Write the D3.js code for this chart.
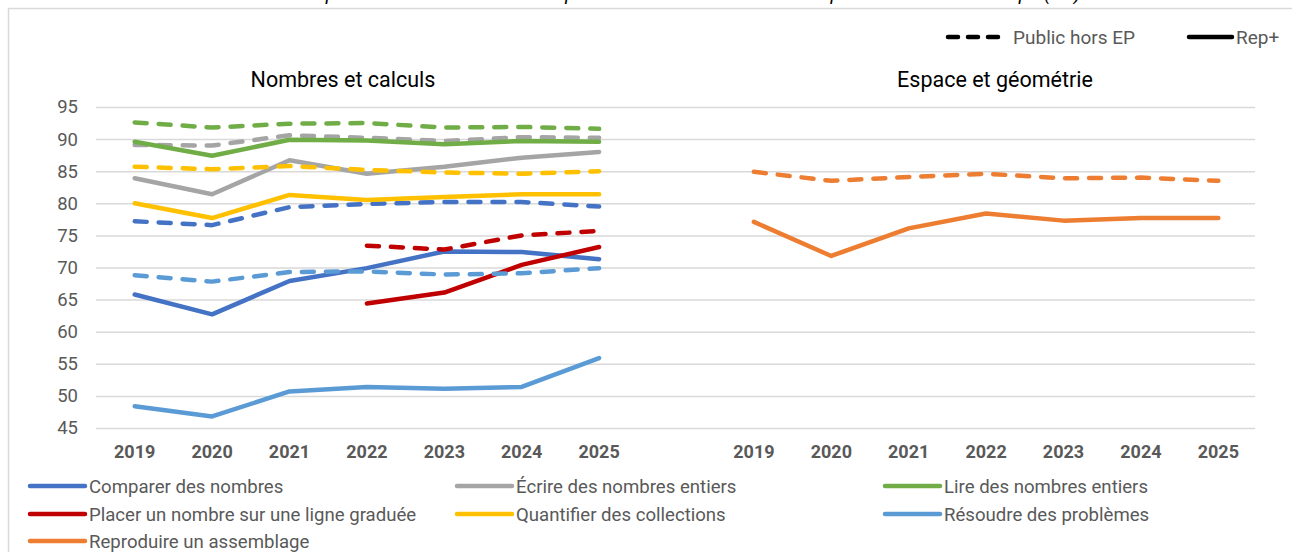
<!DOCTYPE html>
<html>
<head>
<meta charset="utf-8">
<script src="https://cdn.jsdelivr.net/npm/d3@7"></script>
<style>
  body { margin: 0; background: #fff; }
  svg { font-family: Roboto, "Noto Sans", sans-serif; }
</style>
</head>
<body>
<div id="chart"></div>
<script>
var width = 1292,
  height = 552;

// Data
var years = ["2019", "2020", "2021", "2022", "2023", "2024", "2025"];
var domains = ["Nombres et calculs", "Espace et géométrie"];
var yTicks = [45, 50, 55, 60, 65, 70, 75, 80, 85, 90, 95];

var series = [
  "Comparer des nombres",
  "Écrire des nombres entiers",
  "Lire des nombres entiers",
  "Placer un nombre sur une ligne graduée",
  "Quantifier des collections",
  "Résoudre des problèmes",
  "Reproduire un assemblage"
];
var seriesDomain = [0, 0, 0, 0, 0, 0, 1];
var colors = ["#4472C4", "#A5A5A5", "#70AD47", "#C00000", "#FFC000", "#5B9BD5", "#ED7D31"];

// Rep+ (solid)
var repValues = [
  [65.8, 62.7, 67.9, 69.9, 72.5, 72.4, 71.3],
  [83.9, 81.4, 86.7, 84.6, 85.7, 87.1, 88.0],
  [89.6, 87.4, 89.9, 89.8, 89.2, 89.7, 89.6],
  [null, null, null, 64.4, 66.1, 70.4, 73.2],
  [80.0, 77.7, 81.3, 80.5, 81.0, 81.4, 81.4],
  [48.4, 46.8, 50.7, 51.4, 51.1, 51.4, 55.9],
  [77.1, 71.8, 76.1, 78.4, 77.3, 77.7, 77.7]
];
// Public hors EP (dashed)
var horsEpValues = [
  [77.2, 76.6, 79.4, 79.9, 80.2, 80.2, 79.5],
  [89.1, 89.0, 90.6, 90.2, 89.7, 90.3, 90.2],
  [92.6, 91.8, 92.4, 92.5, 91.8, 91.9, 91.6],
  [null, null, null, 73.4, 72.8, 75.0, 75.7],
  [85.7, 85.3, 85.8, 85.2, 84.8, 84.6, 85.0],
  [68.8, 67.8, 69.3, 69.4, 68.9, 69.1, 69.9],
  [84.9, 83.5, 84.1, 84.6, 83.9, 84.0, 83.5]
];

var title = "Évolution des performances en mathématiques selon les domaines dans le public hors EP et en Rep+ (CP)";

var svg = d3.select("#chart").append("svg")
  .attr("width", width)
  .attr("height", height);

// frame
svg.append("rect")
  .attr("x", 8.5).attr("y", 8.5)
  .attr("width", 1300).attr("height", 600)
  .attr("fill", "none")
  .attr("stroke", "#d9d9d9")
  .attr("stroke-width", 1.5);

// title, cut off at the top as in the source
svg.append("text")
  .attr("x", 646).attr("y", 0)
  .attr("text-anchor", "middle")
  .attr("font-style", "italic")
  .attr("font-size", 19)
  .attr("fill", "#000")
  .text(title);

// x categories: 7 years, a gap, 7 years
var keys = [];
domains.forEach(function (d, i) {
  years.forEach(function (y) { keys.push(i + "|" + y); });
  if (i === 0) keys.push("gap");
});

var x = d3.scaleBand().domain(keys).range([96, 1257]).padding(0);
var y = d3.scaleLinear().domain([45, 95]).range([428, 107]);

function xc(k) { return x(k) + x.bandwidth() / 2; }

// grid + y axis
var gy = svg.append("g")
  .attr("transform", "translate(96,0)")
  .call(d3.axisLeft(y).tickValues(yTicks).tickSize(-(1255 - 96)).tickPadding(18));
gy.select(".domain").remove();
gy.selectAll(".tick line").attr("stroke", "#d9d9d9").attr("stroke-width", 1.5);
gy.selectAll(".tick text")
  .attr("font-size", 18.5)
  .attr("fill", "#595959")
  .attr("font-family", "Roboto");

// x axis
var gx = svg.append("g")
  .attr("transform", "translate(0,442)")
  .call(d3.axisBottom(x).tickSize(0).tickPadding(3)
    .tickFormat(function (k) { return k === "gap" ? "" : k.split("|")[1]; }));
gx.select(".domain").remove();
gx.selectAll(".tick text")
  .attr("font-size", 18)
  .attr("font-weight", "bold")
  .attr("fill", "#595959")
  .attr("font-family", "Roboto");

// panel titles
var panelTitleX = [343, 995];
svg.selectAll(".panel-title")
  .data(domains)
  .enter().append("text")
  .attr("class", "panel-title")
  .attr("x", function (d, i) { return panelTitleX[i]; })
  .attr("y", 87)
  .attr("text-anchor", "middle")
  .attr("font-size", 21.5)
  .attr("fill", "#000")
  .text(function (d) { return d; });

var line = d3.line()
  .defined(function (d) { return d.v != null; })
  .x(function (d) { return xc(d.k); })
  .y(function (d) { return y(d.v); });

var g = svg.append("g");

series.forEach(function (name, i) {
  var p = seriesDomain[i];
  var solid = years.map(function (yr, j) { return { k: p + "|" + yr, v: repValues[i][j] }; });
  var dashed = years.map(function (yr, j) { return { k: p + "|" + yr, v: horsEpValues[i][j] }; });

  g.append("path")
    .datum(dashed)
    .attr("d", line)
    .attr("fill", "none")
    .attr("stroke", colors[i])
    .attr("stroke-width", 4.5)
    .attr("stroke-linecap", "round")
    .attr("stroke-linejoin", "round")
    .attr("stroke-dasharray", "12,12");

  g.append("path")
    .datum(solid)
    .attr("d", line)
    .attr("fill", "none")
    .attr("stroke", colors[i])
    .attr("stroke-width", 4.5)
    .attr("stroke-linecap", "round")
    .attr("stroke-linejoin", "round");
});

// top legend (line style)
var styleLegend = [
  { label: "Public hors EP", x1: 948, x2: 1001, tx: 1013, dash: "10,10" },
  { label: "Rep+", x1: 1189, x2: 1232, tx: 1236, dash: null }
];
var sl = svg.selectAll(".style-legend")
  .data(styleLegend)
  .enter().append("g")
  .attr("class", "style-legend");
sl.append("line")
  .attr("x1", function (d) { return d.x1; })
  .attr("x2", function (d) { return d.x2; })
  .attr("y1", 37).attr("y2", 37)
  .attr("stroke", "#000")
  .attr("stroke-width", 4.5)
  .attr("stroke-linecap", "round")
  .attr("stroke-dasharray", function (d) { return d.dash; });
sl.append("text")
  .attr("x", function (d) { return d.tx; })
  .attr("y", 37)
  .attr("dy", "0.35em")
  .attr("font-size", 19)
  .attr("fill", "#595959")
  .text(function (d) { return d.label; });

// bottom legend (series)
var colX = [30, 457, 885];
var rowY = [486, 514, 541];
var lg = svg.selectAll(".series-legend")
  .data(series)
  .enter().append("g")
  .attr("class", "series-legend")
  .attr("transform", function (d, i) {
    return "translate(" + colX[i % 3] + "," + rowY[Math.floor(i / 3)] + ")";
  });
lg.append("line")
  .attr("x1", 0).attr("x2", 55)
  .attr("y1", 0).attr("y2", 0)
  .attr("stroke", function (d, i) { return colors[i]; })
  .attr("stroke-width", 4.5)
  .attr("stroke-linecap", "round");
lg.append("text")
  .attr("x", 59)
  .attr("y", 0)
  .attr("dy", "0.35em")
  .attr("font-size", 18.6)
  .attr("fill", "#595959")
  .text(function (d) { return d; });
</script>
</body>
</html>
